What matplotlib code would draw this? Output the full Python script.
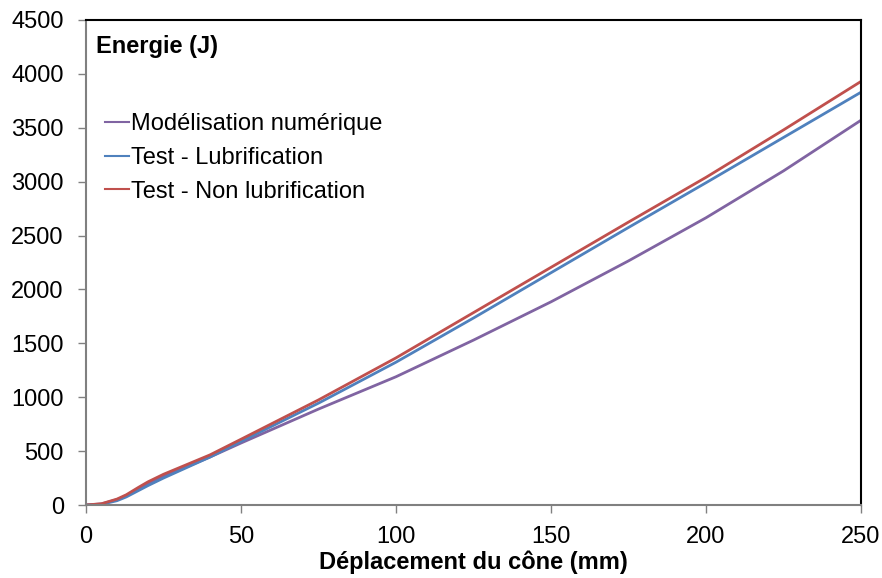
import matplotlib
matplotlib.use("Agg")
import matplotlib.pyplot as plt

plt.rcParams["font.family"] = ["Liberation Sans", "DejaVu Sans"]

# Data
deplacement = [0, 5, 10, 13, 17, 20, 25, 30, 40, 50, 75, 100, 125, 150, 175, 200, 225, 250]
modelisation = [0, 10, 50, 85, 150, 195, 265, 325, 445, 575, 890, 1190, 1530, 1885, 2265, 2665, 3100, 3570]
test_lubrif = [0, 6, 40, 75, 135, 180, 250, 315, 445, 590, 945, 1325, 1735, 2155, 2575, 2990, 3410, 3830]
test_non_lubrif = [0, 12, 55, 95, 165, 215, 285, 345, 465, 610, 975, 1365, 1785, 2205, 2625, 3040, 3480, 3930]

fig = plt.figure(figsize=(8.82, 5.78), dpi=100)
ax = fig.add_axes([86 / 882, 1 - 505 / 578, 775 / 882, 485 / 578])

ax.plot(deplacement, modelisation, color="#8064A2", lw=2.0, label="Modélisation numérique")
ax.plot(deplacement, test_lubrif, color="#4F81BD", lw=2.0, label="Test - Lubrification")
ax.plot(deplacement, test_non_lubrif, color="#C0504D", lw=2.0, label="Test - Non lubrification")

ax.set_xlim(0, 250)
ax.set_ylim(0, 4500)
ax.set_xticks(range(0, 251, 50))
ax.set_yticks(range(0, 4501, 500))
ax.tick_params(direction="out", length=6, width=1, color="#808080", labelsize=17)
ax.tick_params(axis="y", pad=10)
ax.tick_params(axis="x", pad=9)

for side in ("left", "bottom"):
    ax.spines[side].set_color("#808080")
    ax.spines[side].set_linewidth(1.5)
for side in ("top", "right"):
    ax.spines[side].set_color("black")
    ax.spines[side].set_linewidth(1.5)

ax.set_xlabel("Déplacement du cône (mm)", fontsize=17, fontweight="bold", labelpad=2)
ax.text(0.013, 0.945, "Energie (J)", transform=ax.transAxes, fontsize=17,
        fontweight="bold", va="center", ha="left")

leg = ax.legend(loc="upper left", bbox_to_anchor=(0.025, 0.808), frameon=False, fontsize=17,
                handlelength=1.0, handletextpad=0.1, labelspacing=0.5, borderaxespad=0,
                borderpad=0)
for line in leg.get_lines():
    line.set_linewidth(1.5)

fig.savefig("out.png", dpi=100)
